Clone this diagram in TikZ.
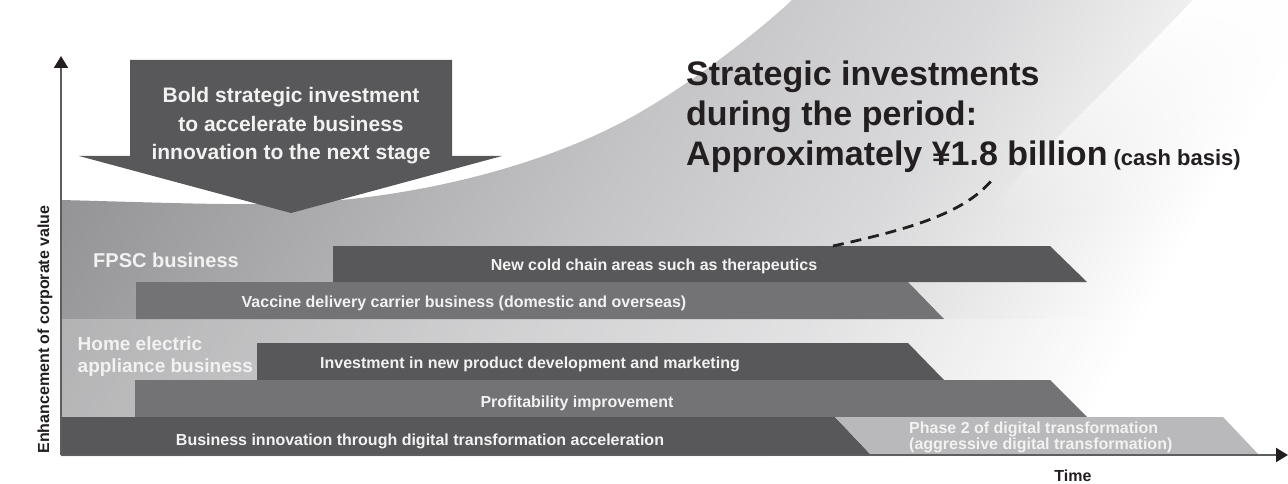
\documentclass[tikz,border=0pt]{standalone}
\usepackage{fontspec}
\setmainfont{Liberation Sans}
\usepackage{xcolor}
\usetikzlibrary{arrows.meta,fadings}
\definecolor{ink}{HTML}{58585A}
\definecolor{steel}{HTML}{737376}
\definecolor{pale}{HTML}{B9B9BB}
\definecolor{paper}{HTML}{F2F2F2}
\definecolor{soot}{HTML}{231F20}
\definecolor{axisgray}{HTML}{5E5E5E}
\definecolor{sw0}{HTML}{939395}
\definecolor{sw1}{HTML}{C4C4C6}
\definecolor{sw2}{HTML}{D9D9DB}
\definecolor{sw3}{HTML}{EDEDED}
\pgfdeclarehorizontalshading{swoosh}{100bp}{color(0bp)=(sw0); color(43.1bp)=(sw0);
  color(53.1bp)=(sw1); color(58.3bp)=(sw2); color(61.5bp)=(sw3); color(64.2bp)=(white); color(100bp)=(white)}
\tikzfading[name=archfade,top color=transparent!0,middle color=transparent!0,bottom color=transparent!100]

\begin{document}
\begin{tikzpicture}[x=1pt,y=-1pt,
  bandtext/.style={anchor=base,inner sep=0pt,text=paper,font=\bfseries\fontsize{16}{14.5}\selectfont},
  bizlabel/.style={anchor=base west,inner sep=0pt,align=left,text=paper,font=\bfseries\fontsize{20}{22}\selectfont},
  axislabel/.style={anchor=base,inner sep=0pt,text=soot,font=\bfseries\fontsize{16}{16}\selectfont},
  axisline/.style={draw=axisgray,line width=2pt,-{Triangle[length=12pt,width=14pt,color=soot]}},
  growth/.style={draw=soot,line width=2.8pt,dash pattern=on 11pt off 7pt}]
  \useasboundingbox (0,0) rectangle (1288,484);
  \begin{scope}
    \clip (61,200) .. controls (180,203) and (260,207) .. (330,201)
      .. controls (440,192) and (560,160) .. (644,110)
      .. controls (700,77) and (760,30) .. (792,0) -- (1288,0) -- (1288,456) -- (61,456) -- cycle;
    \begin{scope}[transform canvas={rotate around={-29:(61,456)}}]
      \shade[shading=swoosh] (-939,-744) rectangle (1461,1656);
    \end{scope}
  \end{scope}
  \fill[white,path fading=archfade] (1193,0) .. controls (1160,35) and (1090,105) .. (1030,165)
    .. controls (1010,185) and (998,203) .. (990,220) -- (1288,220) -- (1288,0) -- cycle;
  \fill[white,opacity=0.25] (61,319) rectangle (1288,417);
  \fill[ink] (130,60) -- (452,60) -- (452,156) -- (502,156) -- (291,213) -- (79,156) -- (130,156) -- cycle;
  \node[anchor=north,inner sep=0pt,align=center,text=paper,font=\bfseries\fontsize{21}{28.5}\selectfont]
    (push) at (291,87.4) {Bold strategic investment\\to accelerate business\\innovation to the next stage};
  \foreach \c/\lt/\lb/\rt/\rb/\yt/\yb in {ink/333/333/1050/1087/246/282,steel/136/136/908/944/282/319,
    ink/257/257/908/944/343/380,steel/135/135/1050/1087/380/417,ink/61/61/835/871/417/455,
    pale/835/871/1223/1259/417/455}
    {\fill[\c] (\lt,\yt) -- (\rt,\yt) -- (\rb,\yb) -- (\lb,\yb) -- cycle;}
  \node[bandtext] (cold) at (654,270) {New cold chain areas such as therapeutics};
  \node[bandtext] (vaccine) at (464,307) {Vaccine delivery carrier business (domestic and overseas)};
  \node[bandtext] (newprod) at (530,368) {Investment in new product development and marketing};
  \node[bandtext] (profit) at (577,407) {Profitability improvement};
  \node[bandtext] (dxbase) at (420,445) {Business innovation through digital transformation acceleration};
  \node[bandtext,anchor=north west,align=left] (dxnext) at (909,422)
    {Phase 2 of digital transformation\\(aggressive digital transformation)};
  \node[bizlabel] (fpsc) at (93,267) {FPSC business};
  \node[bizlabel,anchor=north west,font=\bfseries\fontsize{19}{21.6}\selectfont] (home) at (77.5,337)
    {Home electric\\appliance business};
  \node[anchor=north west,inner sep=0pt,align=left,text=soot,font=\bfseries\fontsize{34}{40}\selectfont]
    (invest) at (686,61) {Strategic investments\\during the period:\\Approximately ¥1.8 billion{\fontsize{22}{40}\selectfont\ (cash basis)}};
  \coordinate (dashfoot) at (833,246);
  \coordinate (dashtop) at (992,180);
  \draw[growth] (dashfoot) .. controls (915,228) and (965,212) .. (dashtop);
  \coordinate (orig) at (61,455);
  \coordinate (ytip) at (61,56);
  \coordinate (xtip) at (1288,455);
  \draw[axisline] (orig) -- (ytip);
  \draw[axisline] (orig) -- (xtip);
  \node[axislabel,rotate=90] (ylab) at (49,329.5) {Enhancement of corporate value};
  \node[axislabel] (xlab) at (1073,481) {Time};
\end{tikzpicture}
\end{document}
